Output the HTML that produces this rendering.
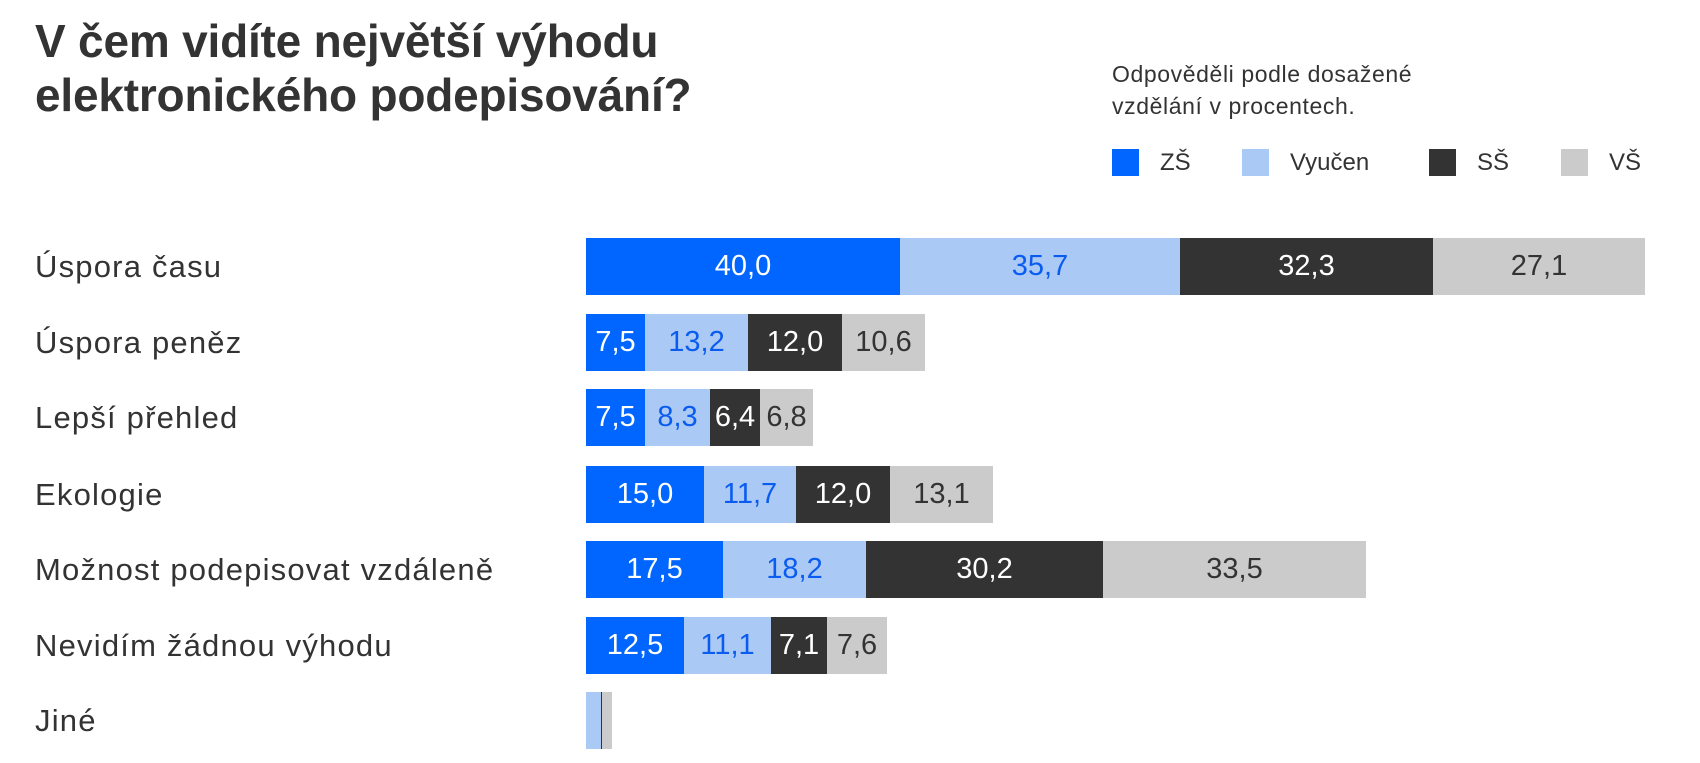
<!DOCTYPE html>
<html><head><meta charset="utf-8"><style>
body{margin:0;width:1700px;height:763px;background:#fff;position:relative;overflow:hidden;font-family:"Liberation Sans",sans-serif;color:#333}
.t{position:absolute;left:35px;top:14px;font-size:46px;font-weight:bold;line-height:54px;letter-spacing:-0.2px;color:#333}
.sub{position:absolute;left:1112px;top:58px;font-size:23px;line-height:32px;letter-spacing:0.6px;color:#333}
.lg{position:absolute;top:149px;width:27px;height:27px}
.lt{position:absolute;top:148px;font-size:24px;line-height:29px}
.lab{position:absolute;left:35px;font-size:31px;height:57px;line-height:57px;letter-spacing:1.2px;color:#333}
.row{position:absolute;left:586px;height:57px;display:flex}
.s{height:57px;line-height:57px;text-align:center;font-size:29px;white-space:nowrap;display:flex;justify-content:center;overflow:visible}
.a{background:#0066ff;color:#fff}.b{background:#abc9f5;color:#0a5cf0}.c{background:#333;color:#fff}.d{background:#cbcbcb;color:#333}
</style></head><body>
<div class="t">V čem vidíte největší výhodu<br>elektronického podepisování?</div>
<div class="sub">Odpověděli podle dosažené<br>vzdělání v procentech.</div>
<div class="lg a" style="left:1112px"></div><div class="lt" style="left:1160px">ZŠ</div>
<div class="lg b" style="left:1242px"></div><div class="lt" style="left:1290px">Vyučen</div>
<div class="lg c" style="left:1429px"></div><div class="lt" style="left:1477px">SŠ</div>
<div class="lg d" style="left:1561px"></div><div class="lt" style="left:1609px">VŠ</div>

<div class="lab" style="top:238px">Úspora času</div>
<div class="row" style="top:238px"><div class="s a" style="width:314px">40,0</div><div class="s b" style="width:280px">35,7</div><div class="s c" style="width:253px">32,3</div><div class="s d" style="width:212px">27,1</div></div>

<div class="lab" style="top:314px">Úspora peněz</div>
<div class="row" style="top:314px"><div class="s a" style="width:59px">7,5</div><div class="s b" style="width:103px">13,2</div><div class="s c" style="width:94px">12,0</div><div class="s d" style="width:83px">10,6</div></div>

<div class="lab" style="top:389px">Lepší přehled</div>
<div class="row" style="top:389px"><div class="s a" style="width:59px">7,5</div><div class="s b" style="width:65px">8,3</div><div class="s c" style="width:50px">6,4</div><div class="s d" style="width:53px">6,8</div></div>

<div class="lab" style="top:466px">Ekologie</div>
<div class="row" style="top:466px"><div class="s a" style="width:118px">15,0</div><div class="s b" style="width:92px">11,7</div><div class="s c" style="width:94px">12,0</div><div class="s d" style="width:103px">13,1</div></div>

<div class="lab" style="top:541px">Možnost podepisovat vzdáleně</div>
<div class="row" style="top:541px"><div class="s a" style="width:137px">17,5</div><div class="s b" style="width:143px">18,2</div><div class="s c" style="width:237px">30,2</div><div class="s d" style="width:263px">33,5</div></div>

<div class="lab" style="top:617px">Nevidím žádnou výhodu</div>
<div class="row" style="top:617px"><div class="s a" style="width:98px">12,5</div><div class="s b" style="width:87px">11,1</div><div class="s c" style="width:56px">7,1</div><div class="s d" style="width:60px">7,6</div></div>

<div class="lab" style="top:692px">Jiné</div>
<div class="row" style="top:692px"><div class="s b" style="width:15px"></div><div class="s c" style="width:1px"></div><div class="s d" style="width:10px"></div></div>
</body></html>
